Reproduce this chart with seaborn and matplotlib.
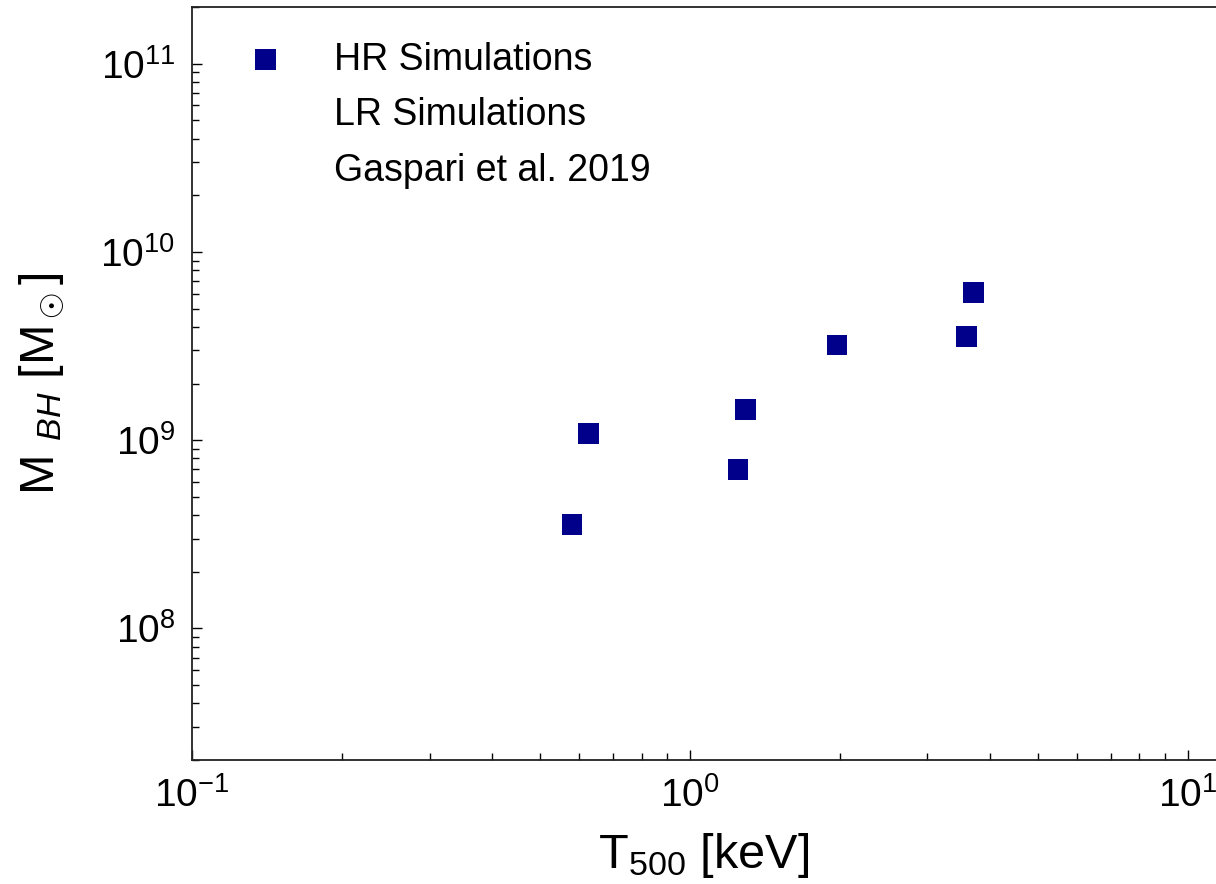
import matplotlib
matplotlib.use("Agg")
import matplotlib.pyplot as plt
import seaborn as sns
import pandas as pd

# High-resolution simulation sample: temperature inside R500 vs central black hole mass
T500_hr = [0.58, 0.625, 1.25, 1.295, 1.975, 3.60, 3.71]
Mbh_hr = [3.55e8, 1.08e9, 6.95e8, 1.45e9, 3.2e9, 3.55e9, 6.1e9]

# Companion samples shown in the key only
T500_lr = []
Mbh_lr = []
T500_obs = []
Mbh_obs = []

labels = ["HR Simulations", "LR Simulations", "Gaspari et al. 2019"]

sns.set_theme(style="ticks")
plt.rcParams["font.family"] = ["Liberation Sans", "DejaVu Sans"]
plt.rcParams["mathtext.fontset"] = "custom"
plt.rcParams["mathtext.rm"] = "Liberation Sans"
plt.rcParams["mathtext.it"] = "Liberation Sans:italic"
plt.rcParams["mathtext.bf"] = "Liberation Sans:bold"
for key in ["text.color", "axes.labelcolor", "xtick.color", "ytick.color"]:
    plt.rcParams[key] = "black"

fig = plt.figure(figsize=(12.16, 8.84), dpi=100)
ax = fig.add_axes([192 / 1216, 1 - 760 / 884, 1 - 192 / 1216, (760 - 7) / 884])

marker_area = 225
df_hr = pd.DataFrame({"T500": T500_hr, "Mbh": Mbh_hr})
sns.scatterplot(data=df_hr, x="T500", y="Mbh", marker="s", s=marker_area, color="#00008b",
                edgecolor="none", linewidth=0, ax=ax, label=labels[0], zorder=3)
ax.scatter(T500_lr, Mbh_lr, marker="s", s=marker_area, color="none", label=labels[1])
ax.scatter(T500_obs, Mbh_obs, marker="s", s=marker_area, color="none", label=labels[2])

ax.set_xscale("log")
ax.set_yscale("log")
ax.set_xlim(0.1, 11.4)
ax.set_ylim(2.0e7, 2.0e11)

ax.set_xlabel("T$_{500}$ [keV]", fontsize=35, labelpad=12)
ax.set_ylabel(r"M $_{\mathit{BH}}$ [M$_\odot$]", fontsize=35, labelpad=24)

ax.tick_params(which="both", direction="in", top=False, right=False, width=1.0,
               labelsize=28, colors="black")
ax.tick_params(which="major", length=7.5, pad=12)
ax.tick_params(which="minor", length=5)
for side in ["left", "bottom", "top"]:
    ax.spines[side].set_linewidth(1.3)
    ax.spines[side].set_color("#222222")
ax.spines["right"].set_visible(False)

leg = ax.legend(loc="upper left", frameon=False, fontsize=27, labelspacing=0.53,
                handletextpad=0.84, borderaxespad=0.2, bbox_to_anchor=(0.013, 0.984))

fig.savefig("out.png", dpi=100)
